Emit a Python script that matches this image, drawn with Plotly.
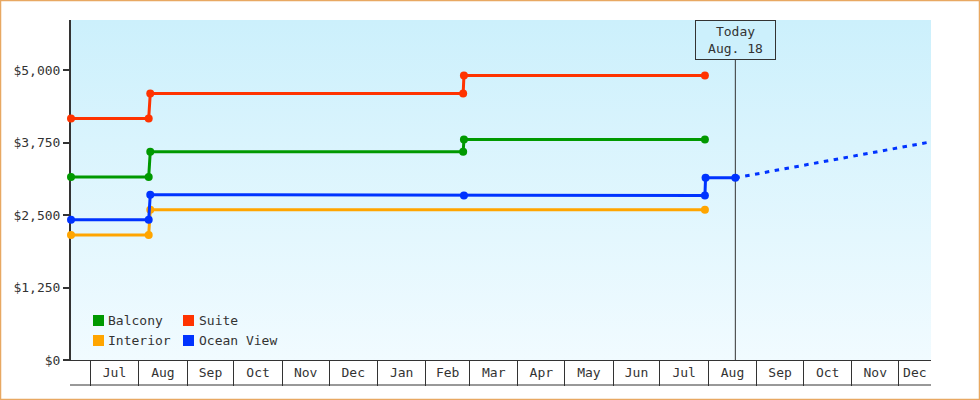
import base64
import pandas as pd
import plotly.graph_objects as go

# ---------------- data ----------------
BALCONY_DATES = ["2013-06-18 15:00", "2013-08-07 10:00", "2013-08-08 10:00",
                 "2014-02-24 22:00", "2014-02-25 10:00", "2014-07-29 20:00"]
BALCONY_PRICES = [3160, 3160, 3595, 3595, 3805, 3805]

SUITE_DATES = ["2013-06-18 15:00", "2013-08-07 10:00", "2013-08-08 10:00",
               "2014-02-24 22:00", "2014-02-25 10:00", "2014-07-29 20:00"]
SUITE_PRICES = [4170, 4170, 4600, 4600, 4910, 4910]

INTERIOR_DATES = ["2013-06-18 15:00", "2013-08-07 10:00", "2013-08-08 10:00",
                  "2014-07-29 20:00"]
INTERIOR_PRICES = [2160, 2160, 2595, 2595]

OCEAN_DATES = ["2013-06-18 15:00", "2013-08-07 10:00", "2013-08-08 10:00",
               "2014-02-25 10:00", "2014-07-29 20:00", "2014-07-30 06:00",
               "2014-08-18 08:00"]
OCEAN_PRICES = [2420, 2420, 2855, 2840, 2840, 3145, 3145]

PROJ_DATES = ["2014-08-18 08:00", "2014-12-21 17:00"]
PROJ_PRICES = [3145, 3767]

TODAY = "2014-08-18 08:00"
TODAY_LABEL = "Today<br>Aug. 18"

X_RANGE = ["2013-06-18 15:00", "2014-12-21 17:00"]
Y_RANGE = [0, 5870]
Y_TICKS = [0, 1250, 2500, 3750, 5000]
Y_TICK_LABELS = ["$0", "$1,250", "$2,500", "$3,750", "$5,000"]

MONTHS = ["2013-07", "2013-08", "2013-09", "2013-10", "2013-11", "2013-12",
          "2014-01", "2014-02", "2014-03", "2014-04", "2014-05", "2014-06",
          "2014-07", "2014-08", "2014-09", "2014-10", "2014-11", "2014-12"]
MONTH_LABELS = ["Jul", "Aug", "Sep", "Oct", "Nov", "Dec", "Jan", "Feb", "Mar",
                "Apr", "May", "Jun", "Jul", "Aug", "Sep", "Oct", "Nov", "Dec"]

LEGEND_COLUMNS = [["Balcony", "Interior"], ["Suite", "Ocean View"]]

COLORS = {"Balcony": "#009900", "Suite": "#ff3300",
          "Interior": "#ffa500", "Ocean View": "#0033ff"}

FONT = "DejaVu Sans Mono"
TXT = "#333333"

W, H = 980, 400
ML, MR, MT, MB = 71, 49, 20, 40
PW, PH = W - ML - MR, H - MT - MB


def px_x(p):  # pixel -> paper x
    return (p - ML) / PW


def px_y(p):  # pixel -> paper y
    return (H - MB - p) / PH


# ---------------- figure ----------------
fig = go.Figure()

series = [("Balcony", BALCONY_DATES, BALCONY_PRICES),
          ("Suite", SUITE_DATES, SUITE_PRICES),
          ("Interior", INTERIOR_DATES, INTERIOR_PRICES),
          ("Ocean View", OCEAN_DATES, OCEAN_PRICES)]

for name, xs, ys in series:
    fig.add_trace(go.Scatter(
        x=xs, y=ys, mode="lines+markers", name=name, showlegend=False,
        line=dict(color=COLORS[name], width=3),
        marker=dict(color=COLORS[name], size=8, symbol="circle"),
        cliponaxis=False, hoverinfo="skip"))

fig.add_trace(go.Scatter(
    x=PROJ_DATES, y=PROJ_PRICES, mode="lines", showlegend=False,
    name="Ocean View (projected)",
    line=dict(color=COLORS["Ocean View"], width=3, dash="4.5px,5.5px"),
    hoverinfo="skip"))

# month cells: boundaries at month starts, labels centred in visible part
r0, r1 = pd.Timestamp(X_RANGE[0]), pd.Timestamp(X_RANGE[1])
month_starts = [pd.Timestamp(m + "-01") for m in MONTHS]
boundaries = [m for m in month_starts if r0 <= m <= r1]
label_pos = []
for m in month_starts:
    nxt = m + pd.offsets.MonthBegin(1)
    a, b = max(m, r0), min(nxt, r1)
    label_pos.append(a + (b - a) / 2)

# gradient background
svg = ('<svg xmlns="http://www.w3.org/2000/svg" width="100" height="100" '
       'viewBox="0 0 100 100" preserveAspectRatio="none"><defs>'
       '<linearGradient id="g" x1="0" y1="0" x2="0" y2="1">'
       '<stop offset="0" stop-color="#ccf0fc"/>'
       '<stop offset="1" stop-color="#f1fbff"/></linearGradient></defs>'
       '<rect width="100" height="100" fill="url(#g)"/></svg>')
bg_src = "data:image/svg+xml;base64," + base64.b64encode(svg.encode()).decode()

fig.update_layout(
    width=W, height=H,
    margin=dict(l=ML, r=MR, t=MT, b=MB, pad=0),
    paper_bgcolor="white", plot_bgcolor="rgba(0,0,0,0)",
    font=dict(family=FONT, size=13, color=TXT),
    showlegend=False,
    images=[dict(source=bg_src, xref="paper", yref="paper", x=0, y=1,
                 sizex=1, sizey=1, sizing="stretch", layer="below",
                 xanchor="left", yanchor="top")],
    xaxis=dict(
        type="date", range=X_RANGE, showgrid=False, zeroline=False,
        showline=True, linecolor=TXT, linewidth=1, layer="below traces",
        tickmode="array", tickvals=label_pos, ticktext=MONTH_LABELS,
        ticks="", tickfont=dict(family=FONT, size=13, color=TXT),
        minor=dict(tickmode="array", tickvals=boundaries, ticks="outside",
                   ticklen=25, tickwidth=1, tickcolor=TXT, showgrid=False)),
    yaxis=dict(
        range=Y_RANGE, showgrid=False, zeroline=False, showline=True,
        linecolor=TXT, linewidth=2, layer="below traces",
        tickmode="array", tickvals=Y_TICKS, ticktext=Y_TICK_LABELS,
        ticks="outside", ticklen=6, tickwidth=2, tickcolor=TXT,
        tickfont=dict(family=FONT, size=13, color=TXT)),
)

# legend: colour swatch + label, two columns
col_swatch_x = [98.5, 188.5]
col_text_x = [107, 198]
row_y = [320, 340]
for ci, names in enumerate(LEGEND_COLUMNS):
    for ri, name in enumerate(names):
        fig.add_annotation(xref="paper", yref="paper", x=px_x(col_swatch_x[ci]),
                           y=px_y(row_y[ri]), xanchor="center", yanchor="middle",
                           text=" ", showarrow=False, width=11, height=11,
                           borderpad=0, borderwidth=0, bgcolor=COLORS[name],
                           font=dict(size=6))
        fig.add_annotation(xref="paper", yref="paper", x=px_x(col_text_x[ci]),
                           y=px_y(row_y[ri]), xanchor="left", yanchor="middle",
                           text=name, showarrow=False, borderpad=0,
                           font=dict(family=FONT, size=13, color=TXT))

# Today marker
fig.add_shape(type="line", xref="x", yref="paper", x0=TODAY, x1=TODAY,
              y0=0, y1=px_y(60), line=dict(color=TXT, width=1),
              layer="below")
fig.add_annotation(x=TODAY, xref="x", y=1, yref="paper", yanchor="top",
                   text=TODAY_LABEL, showarrow=False, align="center",
                   width=77, height=36, borderpad=1, borderwidth=1,
                   bordercolor=TXT, bgcolor="rgba(204,240,252,0.6)",
                   font=dict(family=FONT, size=13, color=TXT))

# bottom line of the month row
fig.add_shape(type="line", xref="paper", yref="paper", x0=-1 / PW, x1=1,
              y0=px_y(385), y1=px_y(385), line=dict(color=TXT, width=1))

# outer border
fig.add_shape(type="rect", xref="paper", yref="paper",
              x0=px_x(0.5), x1=px_x(W - 0.5), y0=px_y(H - 0.5), y1=px_y(0.5),
              line=dict(color="#e8a862", width=1.5), fillcolor="rgba(0,0,0,0)")

fig.write_html("out.html",
               config={"displayModeBar": False, "staticPlot": True},
               post_script="document.body.style.margin='0px';"
                           "document.body.style.padding='0px';")
